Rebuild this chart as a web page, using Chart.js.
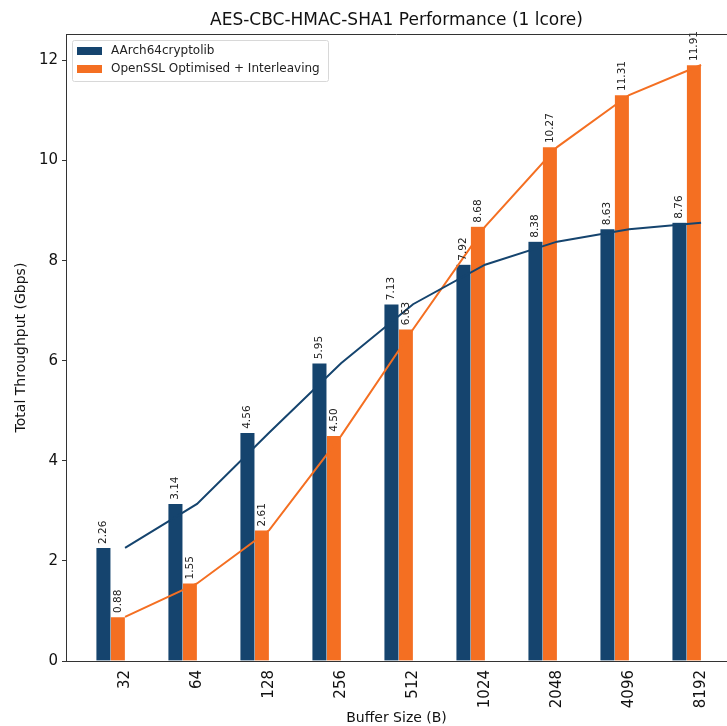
<!DOCTYPE html>
<html>
<head>
<meta charset="utf-8">
<script src="https://cdn.jsdelivr.net/npm/chart.js@4.4.1/dist/chart.umd.min.js"></script>
<style>
  html, body { margin: 0; padding: 0; background: #fff; overflow: hidden; }
  #wrap { width: 727px; height: 726px; }
</style>
</head>
<body>
<div id="wrap"><canvas id="perfChart" width="727" height="726"></canvas></div>
<script>
// chart data
const bufferSizes = ['32', '64', '128', '256', '512', '1024', '2048', '4096', '8192'];
const aarch64Gbps = [2.26, 3.14, 4.56, 5.95, 7.13, 7.92, 8.38, 8.63, 8.76];
const opensslGbps = [0.88, 1.55, 2.61, 4.50, 6.63, 8.68, 10.27, 11.31, 11.91];
const seriesNames = ['AArch64cryptolib', 'OpenSSL Optimised + Interleaving'];

const blue = '#15446e';
const orange = '#f46f22';
const fontFamily = '"DejaVu Sans", "Liberation Sans", sans-serif';

/***** value labels above bars + frame top + legend *****/
const extrasPlugin = {
    id: 'extras',
    afterDatasetsDraw(chart) {
        const ctx = chart.ctx;
        ctx.save();
        ctx.font = '10.5px ' + fontFamily;
        ctx.fillStyle = '#222';
        ctx.textAlign = 'left';
        ctx.textBaseline = 'middle';
        [0, 1].forEach(function (di) {
            const meta = chart.getDatasetMeta(di);
            const vals = chart.data.datasets[di].data;
            meta.data.forEach(function (bar, i) {
                ctx.save();
                ctx.translate(bar.x, bar.y - 4);
                ctx.rotate(-Math.PI / 2);
                ctx.fillText(vals[i].y.toFixed(2), 0, 0);
                ctx.restore();
            });
        });
        ctx.restore();
    },
    afterDraw(chart) {
        const ctx = chart.ctx;
        const area = chart.chartArea;
        ctx.save();
        // top border of the axes box
        ctx.strokeStyle = '#333';
        ctx.lineWidth = 1;
        ctx.beginPath();
        ctx.moveTo(area.left, area.top + 0.5);
        ctx.lineTo(area.right, area.top + 0.5);
        ctx.stroke();

        // legend box (upper left inside the plot)
        const lx = area.left + 6, ly = area.top + 6;
        ctx.fillStyle = 'rgba(255,255,255,0.85)';
        ctx.strokeStyle = '#d8d8d8';
        ctx.beginPath();
        ctx.roundRect(lx + 0.5, ly + 0.5, 256, 41, 2);
        ctx.fill();
        ctx.stroke();
        ctx.font = '12px ' + fontFamily;
        ctx.textAlign = 'left';
        ctx.textBaseline = 'middle';
        [blue, orange].forEach(function (c, i) {
            const rowY = ly + 11 + i * 18;
            ctx.fillStyle = c;
            ctx.fillRect(lx + 5, rowY - 4, 25, 8);
            ctx.fillStyle = '#222';
            ctx.fillText(seriesNames[i], lx + 39, rowY);
        });
        ctx.restore();
    }
};

function points(values, shift) {
    return values.map(function (v, i) { return { x: i + shift, y: v }; });
}

const canvas = document.getElementById('perfChart').getContext('2d');
const perfChart = new Chart(canvas, {
    data: {
        datasets: [
            {
                type: 'bar',
                label: seriesNames[0],
                data: points(aarch64Gbps, -0.3),
                backgroundColor: blue,
                borderColor: 'rgba(255,255,255,0.6)',
                borderWidth: 0.5,
                barThickness: 14.4,
                grouped: false,
                order: 2
            },
            {
                type: 'bar',
                label: seriesNames[1],
                data: points(opensslGbps, -0.1),
                backgroundColor: orange,
                borderColor: 'rgba(255,255,255,0.6)',
                borderWidth: 0.5,
                barThickness: 14.4,
                grouped: false,
                order: 2
            },
            {
                type: 'line',
                label: seriesNames[0] + ' trend',
                data: points(aarch64Gbps, 0),
                borderColor: blue,
                borderWidth: 2,
                pointRadius: 0,
                tension: 0,
                order: 1
            },
            {
                type: 'line',
                label: seriesNames[1] + ' trend',
                data: points(opensslGbps, 0),
                borderColor: orange,
                borderWidth: 2,
                pointRadius: 0,
                tension: 0,
                order: 1
            }
        ]
    },
    options: {
        responsive: false,
        animation: false,
        layout: { padding: 0 },
        plugins: {
            legend: { display: false },
            tooltip: { enabled: false },
            title: {
                display: true,
                fullSize: false,
                text: 'AES-CBC-HMAC-SHA1 Performance (1 lcore)',
                color: '#111',
                font: { family: fontFamily, size: 17, weight: 'normal' },
                padding: { top: 10, bottom: 3.6 }
            }
        },
        scales: {
            x: {
                type: 'linear',
                offset: false,
                min: -0.82,
                max: 8.36,
                afterBuildTicks: function (scale) {
                    scale.ticks = bufferSizes.map(function (s, i) { return { value: i }; });
                },
                afterFit: function (scale) { scale.height = 65; },
                ticks: {
                    minRotation: 90,
                    maxRotation: 90,
                    padding: 1,
                    color: '#111',
                    font: { family: fontFamily, size: 15 },
                    callback: function (value) { return bufferSizes[value]; }
                },
                grid: { display: false },
                border: { display: true, color: '#333', width: 1 },
                title: {
                    display: true,
                    text: 'Buffer Size (B)',
                    color: '#111',
                    font: { family: fontFamily, size: 14 },
                    padding: { top: 0, bottom: -1 }
                }
            },
            y: {
                min: 0,
                max: 12.53,
                afterBuildTicks: function (scale) {
                    scale.ticks = [0, 2, 4, 6, 8, 10, 12].map(function (v) { return { value: v }; });
                },
                afterFit: function (scale) { scale.width = 66; },
                ticks: {
                    padding: 4,
                    color: '#111',
                    font: { family: fontFamily, size: 15 }
                },
                grid: { drawOnChartArea: false, tickLength: 4, color: '#333' },
                border: { display: true, color: '#333', width: 1 },
                title: {
                    display: true,
                    text: 'Total Throughput (Gbps)',
                    color: '#111',
                    font: { family: fontFamily, size: 14 },
                    padding: { top: 13, bottom: 0 }
                }
            }
        }
    },
    plugins: [extrasPlugin]
});
</script>
</body>
</html>
